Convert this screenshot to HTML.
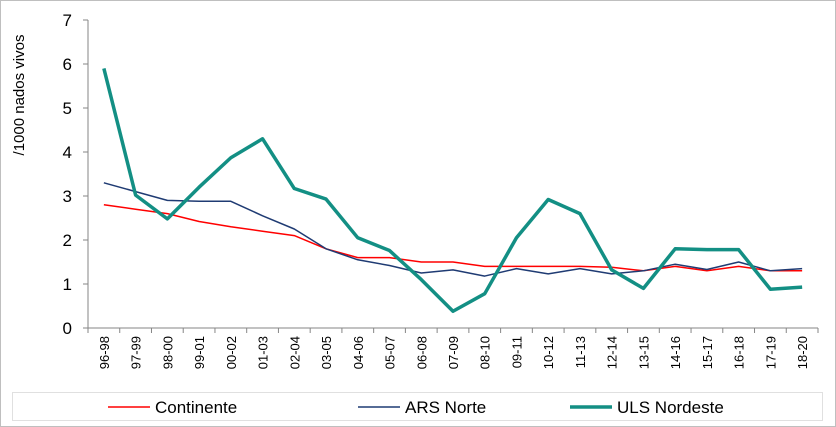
<!DOCTYPE html>
<html><head><meta charset="utf-8"><style>
body{margin:0;background:#fff;font-family:"Liberation Sans",sans-serif}
svg{display:block}
</style></head><body>
<svg width="836" height="427">
<rect x="0.5" y="0.5" width="835" height="426" fill="#fff" stroke="#bfbfbf"/>
<g id="axes"></g><g id="series"></g>
<rect x="12.5" y="392.5" width="810" height="28" fill="none" stroke="#e0e0e0"/>
<text transform="translate(24,95) rotate(-90)" text-anchor="middle" font-size="15" fill="#000">/1000 nados vivos</text>
</svg>
<script>
const categories=["96-98","97-99","98-00","99-01","00-02","01-03","02-04","03-05","04-06","05-07","06-08","07-09","08-10","09-11","10-12","11-13","12-14","13-15","14-16","15-17","16-18","17-19","18-20"];
const continente=[2.8,2.7,2.6,2.42,2.3,2.2,2.1,1.8,1.6,1.6,1.5,1.5,1.4,1.4,1.4,1.4,1.38,1.3,1.4,1.3,1.4,1.3,1.3];
const arsNorte=[3.3,3.1,2.9,2.88,2.88,2.55,2.25,1.8,1.55,1.42,1.25,1.32,1.18,1.35,1.23,1.35,1.23,1.3,1.45,1.33,1.5,1.3,1.35];
const ulsNordeste=[5.9,3.02,2.48,3.2,3.87,4.3,3.17,2.93,2.05,1.76,1.1,0.38,0.78,2.05,2.92,2.6,1.32,0.9,1.8,1.78,1.78,0.88,0.93];
const yTicks=[0,1,2,3,4,5,6,7];
const NS="http://www.w3.org/2000/svg";
const pL=88,pR=818,pT=20,pB=328;
const step=(pR-pL)/categories.length;
const xs=i=>pL+step*(i+0.5);
const ys=v=>pB-(v/7)*(pB-pT);
const axesG=document.getElementById('axes'),ser=document.getElementById('series');
function mk(t,a,p){const e=document.createElementNS(NS,t);for(const k in a)e.setAttribute(k,a[k]);p.appendChild(e);return e;}
const ax=mk('line',{x1:pL,y1:pT,x2:pL,y2:pB,stroke:'#868686'},axesG);


const bx=mk('line',{x1:pL,y1:pB,x2:pR,y2:pB,stroke:'#868686'},axesG);


yTicks.forEach(v=>{
 const t=mk('text',{x:pL-16,y:ys(v)+6,'text-anchor':'end','font-size':17},axesG);t.textContent=v;
 
 
 mk('line',{x1:pL-5,x2:pL,y1:ys(v),y2:ys(v),stroke:'#868686'},axesG);
});
categories.forEach((c,i)=>{
 mk('line',{x1:pL+step*i,x2:pL+step*i,y1:pB,y2:pB+5,stroke:'#868686'},axesG);
 const t=mk('text',{transform:`translate(${xs(i)+5},${pB+8}) rotate(-90)`,'text-anchor':'end','font-size':13},axesG);t.textContent=c;
 
 
});
mk('line',{x1:pR,x2:pR,y1:pB,y2:pB+5,stroke:'#868686'},axesG);
function line(d,col,w,name){
 const p=mk('polyline',{points:d.map((v,i)=>xs(i)+','+ys(v)).join(' '),fill:'none',stroke:col,'stroke-width':w,'stroke-linejoin':'round'},ser);
 
 
}
line(continente,'#ff0000',1.5,'series-continente');
line(arsNorte,'#1f3b73',1.5,'series-ars-norte');
line(ulsNordeste,'#138f84',3.5,'series-uls-nordeste');
[[108,'#ff0000',1.5,'Continente'],[358,'#1f3b73',1.5,'ARS Norte'],[570,'#138f84',3.5,'ULS Nordeste']].forEach(([lx,c,w,n])=>{
 const g=mk('g',{},ser);
 
 
 mk('line',{x1:lx,x2:lx+42,y1:407,y2:407,stroke:c,'stroke-width':w},g);
 const t=mk('text',{x:lx+47,y:413,'font-size':17},g);t.textContent=n;
});
</script>
</body></html>
